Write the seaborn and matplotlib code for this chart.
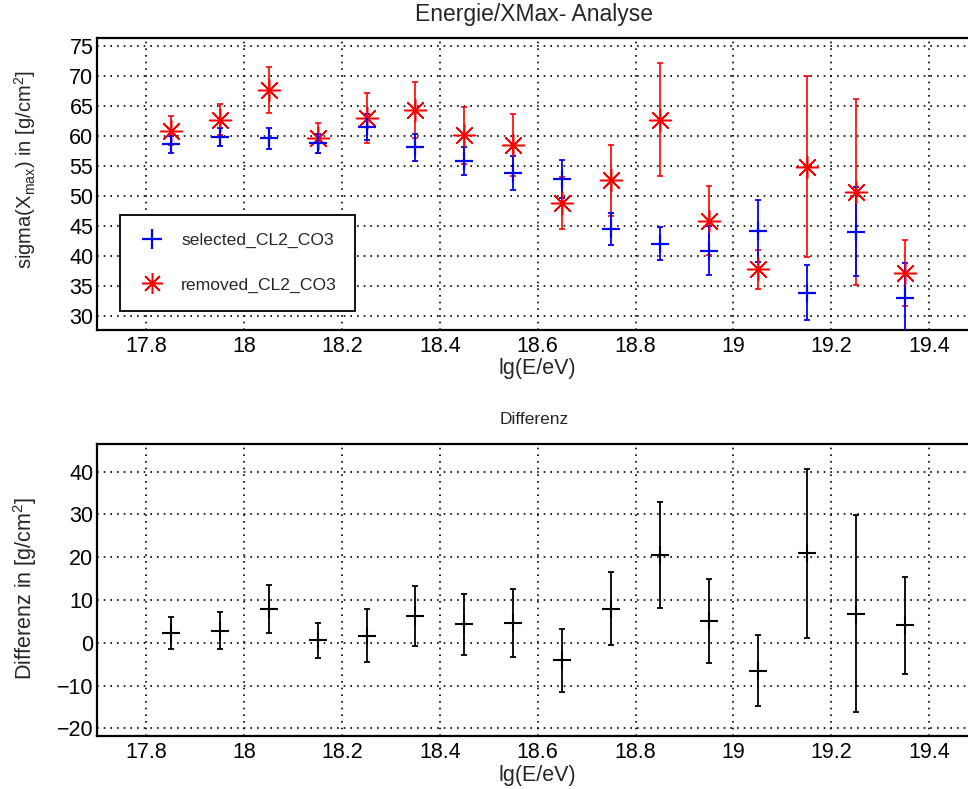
import matplotlib
matplotlib.use("Agg")
import matplotlib.pyplot as plt
from matplotlib.ticker import MultipleLocator
from matplotlib.lines import Line2D
import seaborn as sns
import pandas as pd

# ---- data ----
lgE = [17.85, 17.95, 18.05, 18.15, 18.25, 18.35, 18.45, 18.55,
       18.65, 18.75, 18.85, 18.95, 19.05, 19.15, 19.25, 19.35]
selected = [58.6, 59.8, 59.6, 58.8, 61.5, 58.1, 55.8, 53.8,
            52.8, 44.5, 42.1, 40.9, 44.2, 33.9, 44.1, 33.1]
selected_err = [1.4, 1.5, 1.7, 1.6, 2.1, 2.2, 2.3, 2.8,
                3.2, 2.7, 2.8, 4.1, 5.1, 4.6, 7.4, 5.7]
removed = [60.9, 62.7, 67.7, 59.7, 63.0, 64.3, 60.1, 58.5,
           48.8, 52.6, 62.7, 45.9, 37.8, 54.9, 50.7, 37.2]
removed_err = [2.4, 2.6, 3.8, 2.5, 4.2, 4.7, 4.8, 5.2,
               4.3, 5.9, 9.4, 5.7, 3.3, 15.1, 15.5, 5.5]
diff = [2.3, 2.8, 7.9, 0.6, 1.6, 6.2, 4.3, 4.6,
        -4.1, 8.0, 20.5, 5.1, -6.5, 20.9, 6.8, 4.1]
diff_err = [3.8, 4.3, 5.6, 4.1, 6.2, 7.0, 7.1, 8.0,
            7.4, 8.6, 12.3, 9.8, 8.3, 19.8, 23.0, 11.3]
labels = ["selected_CL2_CO3", "removed_CL2_CO3"]

df = pd.DataFrame({"lgE": lgE, "sel": selected, "sel_err": selected_err,
                   "rem": removed, "rem_err": removed_err,
                   "diff": diff, "diff_err": diff_err})

sns.set_theme(style="white")
plt.rcParams["font.family"] = ["Liberation Sans", "DejaVu Sans"]
plt.rcParams["mathtext.fontset"] = "custom"
plt.rcParams["mathtext.rm"] = "Liberation Sans"
plt.rcParams["mathtext.it"] = "Liberation Sans:italic"
plt.rcParams["mathtext.bf"] = "Liberation Sans:bold"

fig = plt.figure(figsize=(9.68, 7.89), dpi=100)
fig.patch.set_facecolor("white")
ax1 = fig.add_axes([0.1007, 0.5817, 0.9096, 0.3701])
ax2 = fig.add_axes([0.1007, 0.0672, 0.9096, 0.3697])


def style_axis(ax, ymaj, ymin):
    ax.set_facecolor("white")
    ax.set_xlim(17.7, 19.5)
    ax.xaxis.set_major_locator(MultipleLocator(0.2))
    ax.xaxis.set_minor_locator(MultipleLocator(0.05))
    ax.yaxis.set_major_locator(MultipleLocator(ymaj))
    ax.yaxis.set_minor_locator(MultipleLocator(ymin))
    ax.grid(True, which="major", color="black", linestyle=(0, (1, 3)), linewidth=1.2)
    ax.set_axisbelow(True)
    for sp in ax.spines.values():
        sp.set_color("black")
        sp.set_linewidth(1.6)
    ax.tick_params(axis="both", which="both", direction="in", colors="black",
                   labelsize=15.5, width=1.1)
    ax.tick_params(axis="y", which="major", length=16, pad=3)
    ax.tick_params(axis="y", which="minor", length=8)
    ax.tick_params(axis="x", which="major", length=7, pad=4)
    ax.tick_params(axis="x", which="minor", length=3.5)
    ax.set_xticks([17.8, 18.0, 18.2, 18.4, 18.6, 18.8, 19.0, 19.2, 19.4])
    ax.set_xticklabels(["17.8", "18", "18.2", "18.4", "18.6", "18.8", "19", "19.2", "19.4"])


# ---- top panel ----
style_axis(ax1, 5, 1)
ax1.set_ylim(27.7, 76.3)
ax1.errorbar(df["lgE"], df["rem"], yerr=df["rem_err"], fmt="none", ecolor="red",
             elinewidth=1.2, capsize=2.5, capthick=1.2, zorder=3)
ax1.errorbar(df["lgE"], df["sel"], yerr=df["sel_err"], fmt="none", ecolor="blue",
             elinewidth=1.3, capsize=2.5, capthick=1.3, zorder=4)
sns.scatterplot(data=df, x="lgE", y="rem", marker=(8, 2, 0), s=250, color="red",
                linewidth=1.1, ax=ax1, zorder=5, legend=False)
sns.scatterplot(data=df, x="lgE", y="sel", marker="+", s=175, color="blue",
                linewidth=1.6, ax=ax1, zorder=6, legend=False)
ax1.set_xlabel("lg(E/eV)", fontsize=15.5)
ax1.xaxis.set_label_coords(0.5, -0.133)
ax1.xaxis.label.set_va("center")
ax1.set_ylabel(r"sigma(X$_{\mathrm{max}}$) in [g/cm$^{\mathrm{2}}$]", fontsize=14.5)
ax1.yaxis.set_label_coords(-0.0823, 0.548)
ax1.yaxis.label.set_va("center")

handles = [Line2D([], [], linestyle="none", marker="+", color="blue", markersize=14,
                  markeredgewidth=1.6),
           Line2D([], [], linestyle="none", marker=(8, 2, 0), color="red", markersize=15,
                  markeredgewidth=1.1)]
leg = ax1.legend(handles, labels, loc="lower left", bbox_to_anchor=(0.0256, 0.065),
                 borderaxespad=0, fontsize=12.6, frameon=True, fancybox=False,
                 borderpad=1.05, labelspacing=1.65, handlelength=1.5, handletextpad=0.95)
leg.get_frame().set_edgecolor("black")
leg.get_frame().set_linewidth(1.3)
leg.get_frame().set_facecolor("white")
leg.get_frame().set_alpha(1)

# ---- bottom panel ----
style_axis(ax2, 10, 2)
ax2.set_ylim(-21.8, 46.4)
ax2.errorbar(df["lgE"], df["diff"], yerr=df["diff_err"], fmt="none", ecolor="black",
             elinewidth=1.3, capsize=2.5, capthick=1.3, zorder=3)
sns.scatterplot(data=df, x="lgE", y="diff", marker="+", s=165, color="black",
                linewidth=1.5, ax=ax2, zorder=5, legend=False)
ax2.set_xlabel("lg(E/eV)", fontsize=15.5)
ax2.xaxis.set_label_coords(0.5, -0.136)
ax2.xaxis.label.set_va("center")
ax2.set_ylabel(r"Differenz in [g/cm$^{\mathrm{2}}$]", fontsize=15.5)
ax2.yaxis.set_label_coords(-0.0823, 0.506)
ax2.yaxis.label.set_va("center")

fig.text(534 / 968, 1 - 15 / 789, "Energie/XMax- Analyse", ha="center", va="center",
         fontsize=16.5)
fig.text(534 / 968, 1 - 420 / 789, "Differenz", ha="center", va="center", fontsize=12.5)

fig.savefig("out.png", dpi=100, facecolor="white")
